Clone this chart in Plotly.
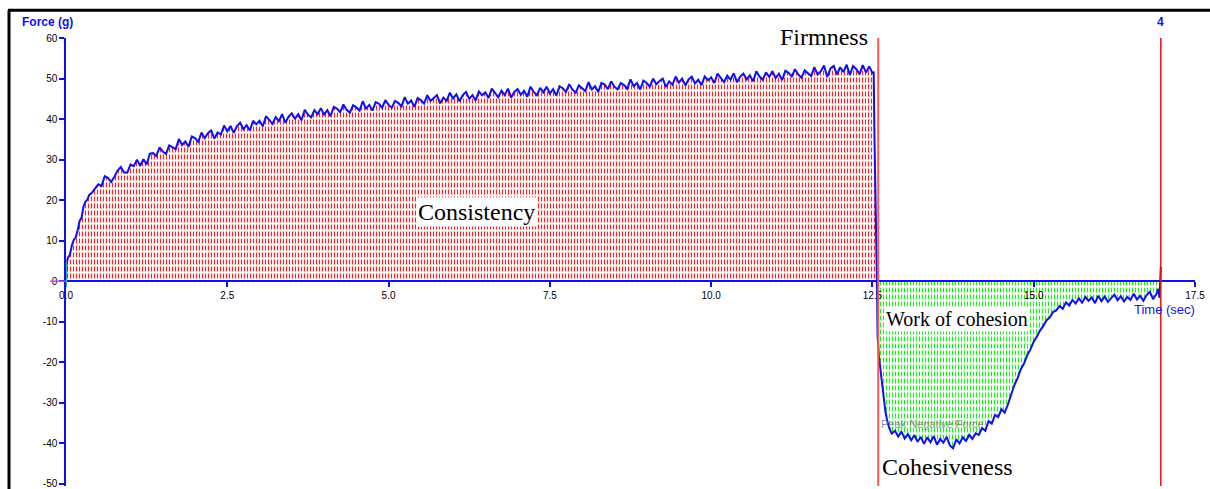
import plotly.graph_objects as go

# ---------------- data ----------------
time_pos = [0.0, 0.01, 0.03, 0.06, 0.09, 0.12, 0.15, 0.18, 0.21, 0.24, 0.27, 0.3, 0.33, 0.36, 0.4, 0.45,
            0.5, 0.55, 0.6, 0.65, 0.7, 0.75, 0.8, 0.85, 0.9, 0.95,
            1.0, 1.05, 1.1, 1.15, 1.2, 1.25, 1.3, 1.35, 1.4, 1.45, 1.5, 1.55, 1.6, 1.65, 1.7, 1.75, 1.8, 1.85, 1.9, 1.95,
            2.0, 2.05, 2.1, 2.15, 2.2, 2.25, 2.3, 2.35, 2.4, 2.45, 2.5, 2.55, 2.6, 2.65, 2.7, 2.75, 2.8, 2.85, 2.9, 2.95,
            3.0, 3.05, 3.1, 3.15, 3.2, 3.25, 3.3, 3.35, 3.4, 3.45, 3.5, 3.55, 3.6, 3.65, 3.7, 3.75, 3.8, 3.85, 3.9, 3.95,
            4.0, 4.05, 4.1, 4.15, 4.2, 4.25, 4.3, 4.35, 4.4, 4.45, 4.5, 4.55, 4.6, 4.65, 4.7, 4.75, 4.8, 4.85, 4.9, 4.95,
            5.0, 5.05, 5.1, 5.15, 5.2, 5.25, 5.3, 5.35, 5.4, 5.45, 5.5, 5.55, 5.6, 5.65, 5.7, 5.75, 5.8, 5.85, 5.9, 5.95,
            6.0, 6.05, 6.1, 6.15, 6.2, 6.25, 6.3, 6.35, 6.4, 6.45, 6.5, 6.55, 6.6, 6.65, 6.7, 6.75, 6.8, 6.85, 6.9, 6.95,
            7.0, 7.05, 7.1, 7.15, 7.2, 7.25, 7.3, 7.35, 7.4, 7.45, 7.5, 7.55, 7.6, 7.65, 7.7, 7.75, 7.8, 7.85, 7.9, 7.95,
            8.0, 8.05, 8.1, 8.15, 8.2, 8.25, 8.3, 8.35, 8.4, 8.45, 8.5, 8.55, 8.6, 8.65, 8.7, 8.75, 8.8, 8.85, 8.9, 8.95,
            9.0, 9.05, 9.1, 9.15, 9.2, 9.25, 9.3, 9.35, 9.4, 9.45, 9.5, 9.55, 9.6, 9.65, 9.7, 9.75, 9.8, 9.85, 9.9, 9.95,
            10.0, 10.05, 10.1, 10.15, 10.2, 10.25, 10.3, 10.35, 10.4, 10.45, 10.5, 10.55, 10.6, 10.65, 10.7, 10.75,
            10.8, 10.85, 10.9, 10.95, 11.0, 11.05, 11.1, 11.15, 11.2, 11.25, 11.3, 11.35, 11.4, 11.45, 11.5, 11.55,
            11.6, 11.65, 11.7, 11.75, 11.8, 11.85, 11.9, 11.95, 12.0, 12.05, 12.1, 12.15, 12.2, 12.25, 12.3, 12.35,
            12.4, 12.45, 12.5, 12.52, 12.53, 12.545, 12.56, 12.57]
force_pos = [0.0, 4.5, 5.8, 6.5, 8.8, 10.2, 10.8, 12.5, 14.9, 15.6, 18.4, 19.6, 20.1, 21.3, 21.8, 22.9,
             23.9, 23.5, 25.9, 25.5, 24.5, 25.8, 27.3, 28.2, 26.8, 26.8,
             28.8, 28.4, 30.0, 28.5, 30.1, 28.8, 31.5, 31.6, 30.9, 33.0, 32.0, 31.4, 33.5, 33.1, 32.6, 35.1, 33.6, 34.5, 33.2, 35.7,
             35.3, 34.4, 36.7, 35.3, 36.5, 37.2, 35.2, 36.7, 36.2, 38.4, 37.0, 38.3, 36.6, 38.3, 39.1, 37.5, 38.5, 37.2, 39.6, 38.7,
             39.6, 38.2, 40.7, 39.8, 38.8, 40.5, 39.5, 41.2, 39.1, 40.6, 41.4, 40.1, 41.2, 39.7, 42.3, 41.1, 40.4, 42.2, 41.2, 42.7,
             41.1, 42.2, 40.7, 43.0, 42.6, 41.7, 43.6, 42.3, 41.6, 43.4, 42.9, 42.1, 44.4, 42.6, 43.5, 42.1, 44.2, 43.8, 42.8, 44.7,
             43.5, 42.8, 44.5, 44.0, 43.1, 45.4, 43.8, 44.6, 43.0, 45.2, 44.7, 43.8, 45.9, 44.5, 45.3, 45.9, 43.9, 45.3, 44.5, 46.5,
             45.1, 46.1, 44.4, 45.9, 46.7, 45.0, 45.9, 44.6, 46.8, 45.9, 46.6, 45.2, 47.5, 46.5, 45.4, 47.0, 45.9, 47.5, 45.3, 46.7,
             47.4, 46.0, 47.0, 45.5, 48.0, 46.7, 45.9, 47.7, 46.6, 48.0, 46.3, 47.4, 45.8, 48.1, 47.6, 46.7, 48.6, 47.3, 46.5, 48.3,
             47.7, 46.9, 49.1, 47.3, 48.1, 46.7, 48.9, 48.5, 47.4, 49.3, 48.0, 47.3, 48.9, 48.4, 47.5, 49.8, 48.1, 48.9, 47.3, 49.5,
             48.9, 48.0, 50.0, 48.6, 49.4, 50.0, 47.9, 49.3, 48.5, 50.5, 49.0, 50.0, 48.3, 49.8, 50.5, 48.8, 49.7, 48.4, 50.5, 49.6,
             50.3, 48.9, 51.2, 50.2, 49.1, 50.7, 49.7, 51.3, 49.1, 50.5, 51.2, 49.8, 50.8, 49.3, 51.8, 50.5,
             49.7, 51.5, 50.4, 51.8, 50.1, 51.2, 49.6, 51.9, 51.4, 50.5, 52.3, 51.0, 50.2, 52.0, 51.4, 50.6,
             52.8, 51.0, 51.8, 53.2, 50.4, 52.5, 53.1, 51.0, 52.8, 51.6, 53.4, 50.9, 53.1, 52.3, 51.1, 53.3,
             51.5, 53.0, 51.4, 51.5, 37.5, 19.6, 5.6, 0.0]

time_neg = [12.57, 12.58, 12.6, 12.62, 12.65, 12.68, 12.7, 12.73, 12.76, 12.8, 12.85, 12.9, 12.95,
            13.0, 13.05, 13.1, 13.15, 13.2, 13.25, 13.3, 13.35, 13.4, 13.45, 13.5, 13.55, 13.6, 13.65,
            13.7, 13.75, 13.8, 13.85, 13.9, 13.95, 14.0, 14.05, 14.1, 14.15, 14.2, 14.25, 14.3, 14.35,
            14.4, 14.45, 14.5, 14.55, 14.6, 14.65, 14.7, 14.75, 14.8, 14.85, 14.9, 14.95, 15.0, 15.05,
            15.1, 15.15, 15.2, 15.25, 15.3, 15.35, 15.4, 15.45, 15.5, 15.55, 15.6, 15.65, 15.7, 15.75,
            15.8, 15.85, 15.9, 15.95, 16.0, 16.05, 16.1, 16.15, 16.2, 16.25, 16.3, 16.35, 16.4, 16.45,
            16.5, 16.55, 16.6, 16.65, 16.7, 16.75, 16.8, 16.85, 16.9, 16.93, 16.95, 16.96, 16.97]
force_neg = [0.0, -13.5, -18.5, -21.5, -25.0, -29.5, -32.0, -34.5, -36.2, -37.6, -36.9, -38.3, -37.1,
             -38.8, -37.7, -39.2, -38.0, -39.6, -38.4, -40.1, -38.5, -39.7, -38.2, -40.3, -38.9, -39.8, -38.4,
             -40.5, -41.2, -39.0, -40.0, -38.5, -39.4, -37.9, -38.9, -37.5, -37.9, -36.2, -36.9, -34.5, -35.1,
             -33.0, -33.5, -31.6, -32.4, -30.4, -28.0, -25.6, -23.9, -21.7, -20.3, -18.2, -16.8, -14.9, -13.6,
             -12.1, -11.0, -9.6, -8.9, -7.6, -7.2, -6.1, -6.8, -5.2, -6.0, -4.6, -5.5, -4.2, -5.3,
             -3.9, -4.8, -4.0, -5.4, -3.6, -4.9, -3.8, -5.1, -4.2, -3.3, -4.7, -3.7, -5.0, -3.9,
             -4.6, -3.1, -4.5, -3.6, -4.8, -3.4, -2.6, -4.4, -3.2, -1.9, -4.1, 0.0, 3.5]

x_ticks = [0.0, 2.5, 5.0, 7.5, 10.0, 12.5, 15.0, 17.5]
x_tick_labels = ["0.0", "2.5", "5.0", "7.5", "10.0", "12.5", "15.0", "17.5"]
y_ticks = [-50, -40, -30, -20, -10, 0, 10, 20, 30, 40, 50, 60]
y_tick_labels = ["-50", "-40", "-30", "-20", "-10", "0", "10", "20", "30", "40", "50", "60"]
marker_times = [12.59, 16.97]
x_range = [0, 17.5]
y_range = [-50.5, 60]

# ---------------- layout geometry ----------------
W, H = 1210, 489
ML, MR, MT, MB = 66, 15, 38, 0
PW, PH = W - ML - MR, H - MT - MB


def px(xp):
    return (xp - ML) / PW


def py(yp):
    return (H - MB - yp) / PH


BLUE = "#1010ee"
fig = go.Figure()

# red hatched area (consistency)
fig.add_trace(go.Scatter(x=time_pos, y=force_pos, mode="none", fill="tozeroy",
                         fillcolor="rgba(0,0,0,0)",
                         fillpattern=dict(shape="|", size=3, solidity=0.4, fgcolor="#ff2222",
                                          bgcolor="white", fillmode="replace"),
                         hoverinfo="skip"))
fig.add_trace(go.Scatter(x=time_pos, y=force_pos, mode="none", fill="tozeroy",
                         fillcolor="rgba(0,0,0,0)",
                         fillpattern=dict(shape="-", size=7, solidity=0.3, fgcolor="white",
                                          bgcolor="rgba(0,0,0,0)", fillmode="replace"),
                         hoverinfo="skip"))
# green hatched area (work of cohesion)
fig.add_trace(go.Scatter(x=time_neg[:-2], y=force_neg[:-2], mode="none", fill="tozeroy",
                         fillcolor="rgba(0,0,0,0)",
                         fillpattern=dict(shape="|", size=3, solidity=0.4, fgcolor="#22ee22",
                                          bgcolor="white", fillmode="replace"),
                         hoverinfo="skip"))
fig.add_trace(go.Scatter(x=time_neg[:-2], y=force_neg[:-2], mode="none", fill="tozeroy",
                         fillcolor="rgba(0,0,0,0)",
                         fillpattern=dict(shape="-", size=7, solidity=0.3, fgcolor="white",
                                          bgcolor="rgba(0,0,0,0)", fillmode="replace"),
                         hoverinfo="skip"))

# force curve
fig.add_trace(go.Scatter(x=time_pos, y=force_pos, mode="lines",
                         line=dict(color=BLUE, width=2), hoverinfo="skip"))
fig.add_trace(go.Scatter(x=time_neg, y=force_neg, mode="lines",
                         line=dict(color=BLUE, width=2), hoverinfo="skip"))

# vertical marker lines
fig.add_shape(type="line", xref="x", yref="paper", x0=marker_times[0], x1=marker_times[0],
              y0=0, y1=1, line=dict(color="#ff5555", width=2))
fig.add_shape(type="line", xref="x", yref="paper", x0=marker_times[1], x1=marker_times[1],
              y0=0, y1=1, line=dict(color="#ee1111", width=1.5))

# small origin markers
fig.add_shape(type="line", xref="paper", yref="y", x0=px(50), x1=0, y0=0, y1=0,
              line=dict(color="#ee33ee", width=1.5))
fig.add_shape(type="line", xref="x", yref="y", x0=0, x1=0, y0=-1.5, y1=5,
              line=dict(color="#33ee88", width=1.5))

# frame lines (top and left border)
fig.add_shape(type="line", xref="paper", yref="paper", x0=px(8), x1=px(1212), y0=py(10), y1=py(10),
              line=dict(color="black", width=3))
fig.add_shape(type="line", xref="paper", yref="paper", x0=px(9), x1=px(9), y0=py(10), y1=py(492),
              line=dict(color="black", width=3))

serif = "Liberation Serif, Times New Roman, serif"
sans = "Liberation Sans, Arial, sans-serif"
ann = [
    dict(text="Firmness", x=12.47, y=py(37), xref="x", yref="paper", xanchor="right", yanchor="middle",
         font=dict(family=serif, size=24, color="black"), showarrow=False),
    dict(text="Consistency", x=6.37, y=17.1, xref="x", yref="y", xanchor="center", yanchor="middle",
         font=dict(family=serif, size=24, color="black"), bgcolor="white", borderpad=1, showarrow=False),
    dict(text="Work of cohesion", x=13.81, y=-9.3, xref="x", yref="y", xanchor="center", yanchor="middle",
         font=dict(family=serif, size=20, color="black"), bgcolor="white", borderpad=1, showarrow=False),
    dict(text="Cohesiveness", x=13.66, y=-45.8, xref="x", yref="y", xanchor="center", yanchor="middle",
         font=dict(family=serif, size=24, color="black"), showarrow=False),
    dict(text="Peak Negative Force", x=12.6, y=-35.3, xref="x", yref="y", xanchor="left", yanchor="middle",
         font=dict(family=sans, size=11, color="rgba(120,120,120,0.8)"), showarrow=False),
    dict(text="<b>Force (g)</b>", x=px(20), y=py(22), xref="paper", yref="paper", xanchor="left",
         yanchor="middle", font=dict(family=sans, size=12, color=BLUE), showarrow=False),
    dict(text="<b>4</b>", x=marker_times[1], y=py(22), xref="x", yref="paper", xanchor="center",
         yanchor="middle", font=dict(family=sans, size=12, color=BLUE), showarrow=False),
    dict(text="Time (sec)", x=px(1197), y=py(311), xref="paper", yref="paper", xanchor="right",
         yanchor="middle", font=dict(family=sans, size=13, color=BLUE), showarrow=False),
]

tickfont = dict(family="Liberation Sans Narrow, Arial Narrow, Liberation Sans, Arial", size=10, color="black")
fig.update_layout(
    width=W, height=H,
    margin=dict(l=ML, r=MR, t=MT, b=MB, pad=0),
    paper_bgcolor="white", plot_bgcolor="white",
    showlegend=False,
    annotations=ann,
    xaxis=dict(range=x_range, anchor="free", position=(0 - y_range[0]) / (y_range[1] - y_range[0]),
               showline=True, linecolor=BLUE, linewidth=1.5, ticks="outside", ticklen=5,
               tickcolor=BLUE, tickwidth=1.5, tickvals=x_ticks, ticktext=x_tick_labels,
               tickfont=tickfont, showgrid=False, zeroline=False, ticklabeloverflow="allow"),
    yaxis=dict(range=y_range, showline=True, linecolor=BLUE, linewidth=1.5, ticks="outside",
               ticklen=5, tickcolor=BLUE, tickwidth=1.5, tickvals=y_ticks, ticktext=y_tick_labels,
               tickfont=tickfont, showgrid=False, zeroline=False, ticklabeloverflow="allow"),
)

fig.write_html("out.html", config={"displayModeBar": False},
               post_script="document.body.style.margin='0';document.body.style.overflow='hidden';")
